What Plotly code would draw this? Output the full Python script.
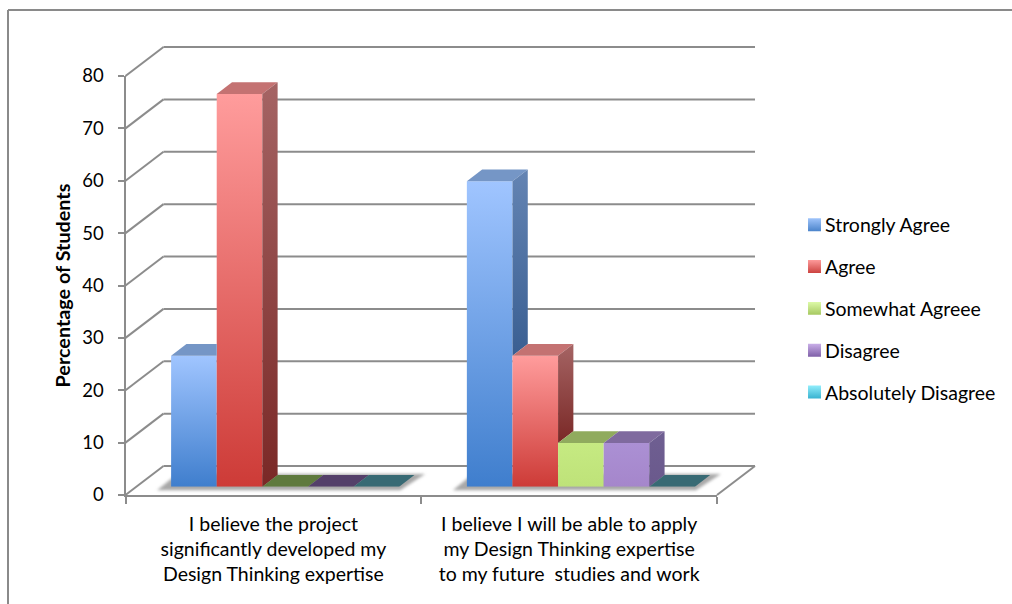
import json
import plotly.graph_objects as go

# ---- data ----
CATEGORIES = [
    "I believe the project<br>significantly developed my<br>Design Thinking expertise",
    "I believe I will be able to apply<br>my Design Thinking expertise<br>to my future  studies and work",
]
SERIES_NAMES = ["Strongly Agree", "Agree", "Somewhat Agreee", "Disagree", "Absolutely Disagree"]
STRONGLY_AGREE = [25, 58.33]
AGREE = [75, 25]
SOMEWHAT_AGREE = [0, 8.33]
DISAGREE = [0, 8.33]
ABSOLUTELY_DISAGREE = [0, 0]
SERIES_VALUES = [STRONGLY_AGREE, AGREE, SOMEWHAT_AGREE, DISAGREE, ABSOLUTELY_DISAGREE]
Y_TICKS = [0, 10, 20, 30, 40, 50, 60, 70, 80]

# ---- styles ----
FRONT_TOP = ["#a0c5ff", "#ff9c9c", "#c6ea82", "#ab90d4", "#8fe6f7"]
FRONT_BOT = ["#3f7ecd", "#cd3b37", "#bee279", "#a586cb", "#35b5d0"]
LEG_TOP = ["#9fc4fb", "#fd9a9a", "#ddfaa8", "#c9aee8", "#90edfb"]
LEG_BOT = ["#4b84cb", "#cc4340", "#a6c860", "#7f60a8", "#38b2d0"]
SIDE_TOP = ["#6484b3", "#a56464", "#8fa860", "#6f5f92", "#386a74"]
SIDE_BOT = ["#3a5f92", "#7a2826", "#8fa860", "#6a598c", "#386a74"]
TOP_RAISED = ["#7596c6", "#c47272", "#90ab5e", "#7f6a9e", "#386a74"]
TOP_FLAT = ["#7596c6", "#c47272", "#5f7a3e", "#54406a", "#386a74"]
GRID = "#8c8c8c"
FONT = "Lato"
W, H = 1012, 604

# ---- geometry (pixels) ----
AX_L, AX_R = 125.5, 717.0
AX_B, AX_T = 495.0, 76.0
WALL_DX, WALL_DY = 38.0, 29.0
BAR_SHIFT_X, BAR_SHIFT_Y = 11.75, 8.3
BAR_DX, BAR_DY = 15.3, 11.7
BAR_GAP = 0.229
px_per_val = (AX_B - AX_T) / 80.0
px_per_cat = (AX_R - AX_L) / 2.0


def fx(p):
    return p / W


def fy(p):
    return 1 - p / H


def line(x0, y0, x1, y1):
    return dict(type="line", xref="paper", yref="paper", x0=fx(x0), y0=fy(y0), x1=fx(x1), y1=fy(y1),
                line=dict(color=GRID, width=2), layer="below")


shapes = []
# chart-area border
shapes.append(dict(type="line", xref="paper", yref="paper", x0=fx(8), y0=fy(10), x1=1, y1=fy(10),
                   line=dict(color="#8a8a8a", width=2), layer="below"))
shapes.append(dict(type="line", xref="paper", yref="paper", x0=fx(8), y0=fy(10), x1=fx(8), y1=0,
                   line=dict(color="#8a8a8a", width=2), layer="below"))
# walls
for t in Y_TICKS:
    yy = AX_B - t * px_per_val
    shapes.append(line(AX_L, yy, AX_L + WALL_DX, yy - WALL_DY))
    shapes.append(line(AX_L + WALL_DX, yy - WALL_DY, AX_R + WALL_DX, yy - WALL_DY))
shapes.append(line(AX_R, AX_B, AX_R + WALL_DX, AX_B - WALL_DY))
# soft shadow on the floor beneath each group
bar_w = (1 - BAR_GAP) / len(SERIES_VALUES)
base_y = AX_B - BAR_SHIFT_Y
for c in range(len(CATEGORIES)):
    x0 = AX_L + BAR_SHIFT_X + (c + 0.5 - 2.5 * bar_w) * px_per_cat
    pts = [(x0 - 14, base_y + 3.5), (x0 + 229, base_y + 3.5), (x0 + 254, base_y - 12.7), (x0 + 6, base_y - 12.7)]
    d = "M" + " L".join(f"{fx(a)},{fy(b)}" for a, b in pts) + " Z"
    shapes.append(dict(type="path", xref="paper", yref="paper", path=d, fillcolor="#a8a8a8",
                       line=dict(width=0), layer="below"))

fig = go.Figure()
# invisible trace keeps the category axis alive for ticks and labels
fig.add_trace(go.Scatter(x=CATEGORIES, y=[0, 0], xaxis="x", yaxis="y", mode="markers",
                         marker=dict(opacity=0), showlegend=False, hoverinfo="skip"))

for i, (name, vals) in enumerate(zip(SERIES_NAMES, SERIES_VALUES)):
    fig.add_trace(go.Bar(x=list(range(len(CATEGORIES))), y=vals, name=name, xaxis="x2", yaxis="y2",
                         marker=dict(color=FRONT_TOP[i], line=dict(width=0)), legendgroup=name,
                         hoverinfo="skip"))

# side and top faces of the bars
dx = BAR_DX / px_per_cat
dy = BAR_DY / px_per_val
side_grad = [None]  # gradient index for each face trace in scatter order (first is the helper trace)
for c in range(len(CATEGORIES)):
    for i, vals in enumerate(SERIES_VALUES):
        v = vals[c]
        nxt = SERIES_VALUES[i + 1][c] if i + 1 < len(SERIES_VALUES) else 0
        l = c - 2.5 * bar_w + i * bar_w
        r = l + bar_w
        back_r = r if nxt > v else r + dx
        top_col = TOP_RAISED[i] if v > 0 else TOP_FLAT[i]
        fig.add_trace(go.Scatter(x=[l, l + dx, back_r, r, l], y=[v, v + dy, v + dy, v, v],
                                 xaxis="x2", yaxis="y2", mode="none", fill="toself", fillcolor=top_col,
                                 showlegend=False, hoverinfo="skip"))
        side_grad.append(None)
        if v > nxt:
            fig.add_trace(go.Scatter(x=[r, r, r + dx, r + dx, r], y=[nxt, v, v + dy, nxt + dy, nxt],
                                     xaxis="x2", yaxis="y2", mode="none", fill="toself",
                                     fillcolor=SIDE_TOP[i], showlegend=False, hoverinfo="skip"))
            side_grad.append(i)

text_font = dict(family=FONT, size=19.5, color="#000000")
num_font = dict(family=FONT, size=18.5, color="#000000")
fig.update_layout(
    template="none",
    width=W, height=H, autosize=False,
    margin=dict(l=0, r=0, t=0, b=0, autoexpand=False),
    paper_bgcolor="#ffffff", plot_bgcolor="rgba(0,0,0,0)",
    barmode="group", bargap=BAR_GAP, bargroupgap=0,
    shapes=shapes,
    font=text_font,
    showlegend=True,
    legend=dict(x=fx(785), xanchor="left", y=fy(205.5), yanchor="top", font=text_font,
                tracegroupgap=13.5, bgcolor="rgba(0,0,0,0)", traceorder="grouped", itemclick=False,
                borderwidth=0),
    xaxis=dict(domain=[fx(AX_L), fx(AX_R)], type="category", categoryorder="array", categoryarray=CATEGORIES,
               range=[-0.5, 1.5], anchor="y", showline=True, linecolor=GRID, linewidth=2,
               ticks="outside", ticklen=7, tickwidth=2, tickcolor=GRID, tickson="boundaries",
               showgrid=False, zeroline=False, tickangle=0, tickfont=text_font, ticklabelstandoff=11,
               automargin=False),
    yaxis=dict(domain=[fy(AX_B), fy(AX_T)], range=[0, 80], anchor="x", tickvals=Y_TICKS,
               showline=True, linecolor=GRID, linewidth=2, ticks="outside", ticklen=6, tickwidth=2,
               tickcolor=GRID, showgrid=False, zeroline=False, tickfont=num_font, ticklabelstandoff=10,
               automargin=False,
               title=dict(text="<b>Percentage of Students</b>", font=dict(family=FONT, size=19.8, color="#000000"),
                          standoff=6)),
    xaxis2=dict(domain=[fx(AX_L + BAR_SHIFT_X), fx(AX_R + BAR_SHIFT_X)], range=[-0.5, 1.5], anchor="y2",
                visible=False, showgrid=False, zeroline=False),
    yaxis2=dict(domain=[fy(AX_B - BAR_SHIFT_Y), fy(AX_T - BAR_SHIFT_Y)], range=[0, 80], anchor="x2",
                visible=False, showgrid=False, zeroline=False),
)

payload = json.dumps(dict(ft=FRONT_TOP, fb=FRONT_BOT, lt=LEG_TOP, lb=LEG_BOT, st=SIDE_TOP, sb=SIDE_BOT,
                          side=side_grad, nshadow=len(CATEGORIES)))
post = """
document.documentElement.style.overflow='hidden';
document.body.style.margin='0';
(function(){
var P=%s;
var gd=document.getElementById('{plot_id}');
var NS='http://www.w3.org/2000/svg';
function defs(){
  var svg=gd.querySelector('svg.main-svg');
  var old=svg.querySelector('#cgrads'); if(old) old.remove();
  var d=document.createElementNS(NS,'defs'); d.id='cgrads';
  function g(id,a,b){var lg=document.createElementNS(NS,'linearGradient');lg.id=id;
    lg.setAttribute('x1','0');lg.setAttribute('y1','0');lg.setAttribute('x2','0');lg.setAttribute('y2','1');
    [[0,a],[1,b]].forEach(function(s){var st=document.createElementNS(NS,'stop');
      st.setAttribute('offset',s[0]);st.setAttribute('stop-color',s[1]);lg.appendChild(st);});d.appendChild(lg);}
  for(var i=0;i<5;i++){g('fg'+i,P.ft[i],P.fb[i]);g('lg'+i,P.lt[i],P.lb[i]);g('sg'+i,P.st[i],P.sb[i]);}
  var f=document.createElementNS(NS,'filter');f.id='soft';
  f.setAttribute('x','-10%%');f.setAttribute('y','-50%%');f.setAttribute('width','120%%');f.setAttribute('height','200%%');
  var b=document.createElementNS(NS,'feGaussianBlur');b.setAttribute('stdDeviation','1.6');f.appendChild(b);d.appendChild(f);
  svg.insertBefore(d,svg.firstChild);
}
function apply(){
  defs();
  gd.querySelectorAll('.barlayer .trace').forEach(function(t,i){
    t.querySelectorAll('.point path').forEach(function(p){p.style.fill='url(#fg'+i+')';});});
  gd.querySelectorAll('.scatterlayer .trace').forEach(function(t,i){
    var k=P.side[i]; if(k===null||k===undefined) return;
    var f=t.querySelector('.js-fill'); if(f) f.style.fill='url(#sg'+k+')';});
  gd.querySelectorAll('.legend .traces').forEach(function(t,i){
    t.querySelectorAll('.legendpoints path, path.legendbar').forEach(function(p){
      p.style.fill='url(#lg'+i+')';p.setAttribute('transform','translate(29.5,0) scale(1.08)');});});
  var sh=gd.querySelectorAll('.layer-below .shapelayer path');
  for(var j=sh.length-P.nshadow;j<sh.length;j++){sh[j].setAttribute('filter','url(#soft)');}
  gd.querySelectorAll('.xtick text').forEach(function(t){
    t.querySelectorAll('tspan.line').forEach(function(s,n){s.setAttribute('dy',(n*25)+'px');});});
}
apply();
gd.on('plotly_afterplot',apply);
setTimeout(apply,200);
})();
""" % payload

fig.write_html("out.html", post_script=post, config=dict(displayModeBar=False))
